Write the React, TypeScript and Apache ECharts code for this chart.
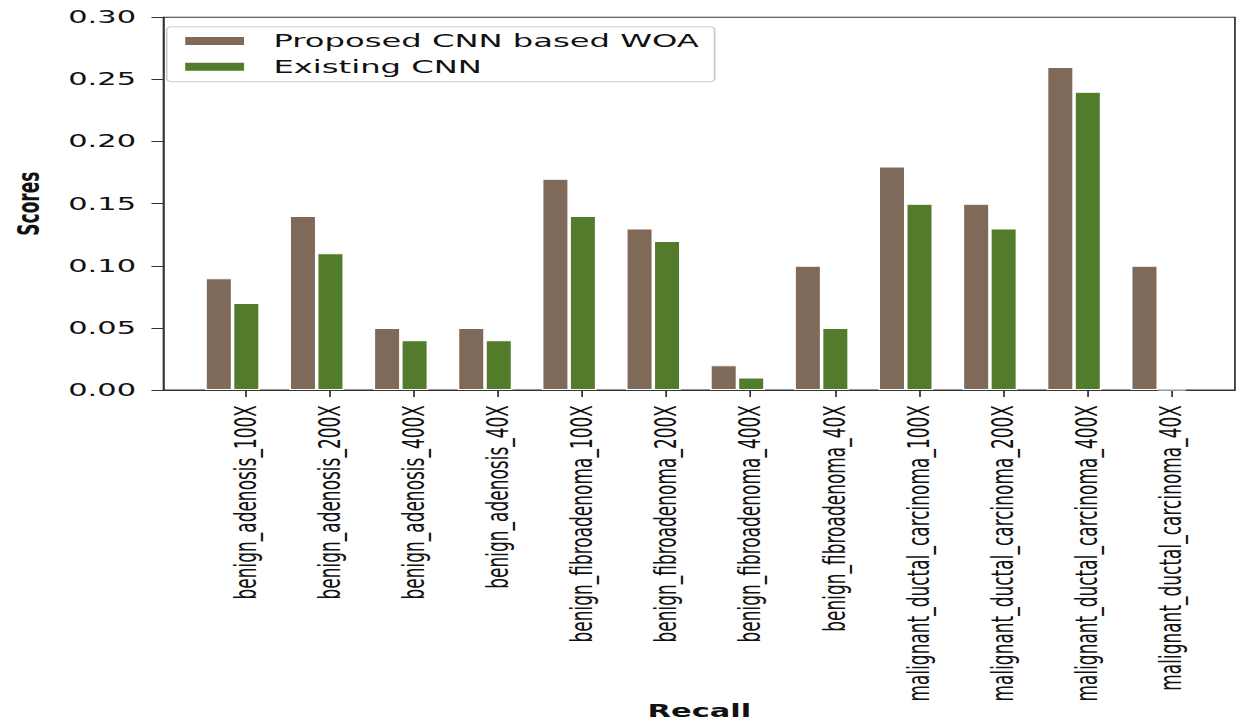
import React, { useEffect, useRef } from "react";
import * as echarts from "echarts";

const categories = [
  "benign_adenosis_100X",
  "benign_adenosis_200X",
  "benign_adenosis_400X",
  "benign_adenosis_40X",
  "benign_fibroadenoma_100X",
  "benign_fibroadenoma_200X",
  "benign_fibroadenoma_400X",
  "benign_fibroadenoma_40X",
  "malignant_ductal_carcinoma_100X",
  "malignant_ductal_carcinoma_200X",
  "malignant_ductal_carcinoma_400X",
  "malignant_ductal_carcinoma_40X",
];
const proposedValues = [0.09, 0.14, 0.05, 0.05, 0.17, 0.13, 0.02, 0.1, 0.18, 0.15, 0.26, 0.1];
const existingValues = [0.07, 0.11, 0.04, 0.04, 0.14, 0.12, 0.01, 0.05, 0.15, 0.13, 0.24, 0];
const seriesNames = ["Proposed CNN based WOA", "Existing CNN"];

const W = 706;
const H = 727;
const SX = 1236 / W;
const FONT = "DejaVu Sans";

export default function App() {
  const ref = useRef<HTMLDivElement>(null);
  useEffect(() => {
    if (!ref.current) return;
    const chart = echarts.init(ref.current, undefined, { renderer: "svg" });
    const top = 17.3;
    const bottom = H - 390;
    const barLeft = 108.8;
    const barWidthAll = 576.8;
    chart.setOption({
      animation: false,
      backgroundColor: "#ffffff",
      legend: {
        orient: "vertical",
        left: 95.2,
        top: 26.7,
        data: seriesNames,
        icon: "rect",
        itemWidth: 35.6,
        itemHeight: 10,
        itemGap: 7.8,
        padding: [5.2, 9, 6, 8.6],
        borderColor: "#cccccc",
        borderWidth: 1,
        borderRadius: 3,
        backgroundColor: "rgba(255,255,255,0.8)",
        textStyle: {
          fontFamily: FONT,
          fontSize: 18.4,
          color: "#111",
          lineHeight: 18,
          padding: [0, 0, 0, 10.8],
        },
      },
      grid: [
        { left: 86.8, right: 0.6, top, bottom, show: true, borderColor: "#333", borderWidth: 1, backgroundColor: "transparent" },
        { left: barLeft, width: barWidthAll, top, bottom },
        { left: barLeft + 7.5, width: barWidthAll, top, bottom },
      ],
      xAxis: [
        {
          gridIndex: 0,
          type: "value",
          min: 0,
          max: 1,
          axisLine: { show: true, lineStyle: { color: "#333", width: 1 } },
          axisTick: { show: false },
          axisLabel: { show: false },
          splitLine: { show: false },
          name: "Recall",
          nameLocation: "middle",
          nameGap: 313,
          nameTextStyle: { fontFamily: FONT, fontSize: 17.4, fontWeight: "bold", color: "#111" },
        },
        {
          gridIndex: 1,
          type: "category",
          data: categories,
          axisLine: { show: false },
          axisTick: { show: false },
          axisLabel: { show: false },
          splitLine: { show: false },
        },
        {
          gridIndex: 2,
          type: "category",
          data: categories,
          axisLine: { show: false },
          axisTick: { show: true, alignWithLabel: true, length: 7, lineStyle: { color: "#333" } },
          axisLabel: { show: true, rotate: 90, margin: 15, interval: 0, fontFamily: FONT, fontSize: 17, color: "#111" },
          splitLine: { show: false },
        },
      ],
      yAxis: [
        {
          gridIndex: 0,
          type: "value",
          min: 0,
          max: 0.3,
          interval: 0.05,
          axisLine: { show: true, lineStyle: { color: "#333", width: 1 } },
          axisTick: { show: true, length: 7, lineStyle: { color: "#333" } },
          axisLabel: {
            margin: 15.8,
            fontFamily: FONT,
            fontSize: 17.4,
            color: "#111",
            formatter: (v: number) => v.toFixed(2),
          },
          splitLine: { show: false },
          name: "Scores",
          nameLocation: "middle",
          nameGap: 68.5,
          nameTextStyle: { fontFamily: FONT, fontSize: 17, fontWeight: "bold", color: "#111" },
        },
        { gridIndex: 1, type: "value", min: 0, max: 0.3, show: false },
        { gridIndex: 2, type: "value", min: 0, max: 0.3, show: false },
      ],
      series: [
        {
          name: seriesNames[0],
          type: "bar",
          xAxisIndex: 1,
          yAxisIndex: 1,
          data: proposedValues,
          barWidth: 15.7,
          barGap: "0%",
          itemStyle: { color: "#7f6a5a", borderColor: "#ffffff", borderWidth: 1 },
        },
        {
          name: seriesNames[1],
          type: "bar",
          xAxisIndex: 1,
          yAxisIndex: 1,
          data: existingValues,
          barWidth: 15.7,
          barGap: "0%",
          itemStyle: { color: "#537b2c", borderColor: "#ffffff", borderWidth: 1 },
        },
      ],
    });
    return () => chart.dispose();
  }, []);
  return (
    <div
      ref={ref}
      style={{
        position: "absolute",
        left: 0,
        top: 0,
        width: W,
        height: H,
        transform: `scaleX(${SX})`,
        transformOrigin: "0 0",
      }}
    />
  );
}
